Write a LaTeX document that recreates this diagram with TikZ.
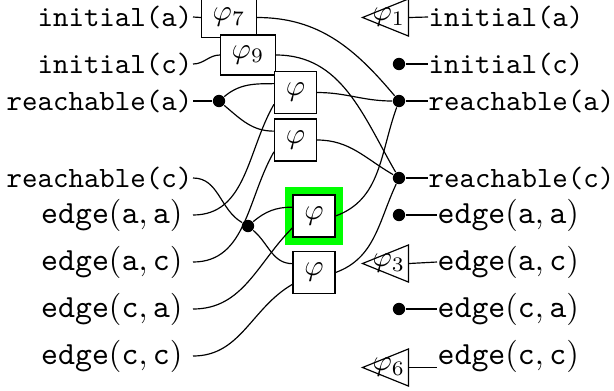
\documentclass[tikz,border=0pt]{standalone}
\usetikzlibrary{shapes.geometric}

\begin{document}
\begin{tikzpicture}[x=0.339pt,y=-0.339pt,
    lab/.style={inner sep=0pt},
    elab/.style={inner sep=0pt,font=\fontsize{10.6}{13}\selectfont},
    phibox/.style={draw,fill=white,inner sep=0pt,minimum width=14.2pt,minimum height=14.2pt},
    subbox/.style={phibox,minimum width=18.6pt,minimum height=13.6pt},
    hlbox/.style={phibox,preaction={draw=green,line width=5.6pt}},
    dot/.style={circle,fill,inner sep=0pt,minimum size=4.2pt},
    tri/.style={draw,isosceles triangle,shape border rotate=180,
      isosceles triangle stretches,inner sep=0pt,minimum width=12.6pt,minimum height=15.6pt}]
  \useasboundingbox (0,0) rectangle (614,390);
  % atoms, left and right
  \foreach \n/\y/\lab in {ia/17/initial(a),ic/64/initial(c),ra/101/reachable(a),rc/178/reachable(c)} {
    \node[lab,anchor=east,font=\ttfamily] (l-\n) at (193,\y) {\lab};
    \node[lab,anchor=west,font=\ttfamily] (r-\n) at (428,\y) {\lab};
  }
  \foreach \n/\y/\u/\v in {eaa/215/a/a,eac/262/a/c,eca/309/c/a,ecc/356/c/c} {
    \node[elab,anchor=east,inner xsep=3.4pt] (l-\n) at (193,\y) {$\mathtt{edge}(\mathtt{\u},\mathtt{\v})$};
    \node[elab,anchor=west] (r-\n) at (437,\y) {$\mathtt{edge}(\mathtt{\u},\mathtt{\v})$};
  }
  % gates
  \node[subbox] (p7) at (229,17.5) {$\varphi_7$};
  \node[subbox] (p9) at (248,55) {$\varphi_9$};
  \node[phibox] (pa) at (295.5,92.5) {$\varphi$};
  \node[phibox] (pb) at (295.5,140) {$\varphi$};
  \node[hlbox] (pg) at (314,216) {$\varphi$};
  \node[phibox] (pd) at (314,272.5) {$\varphi$};
  \node[dot] (d1) at (219,101) {};
  \node[dot] (d2) at (248,226) {};
  \foreach \n/\y in {ic/64,ra/101,rc/178,eaa/215,eca/309}
    \node[dot] (q-\n) at (399,\y) {};
  \node[tri,label={[xshift=-2.4pt]center:$\varphi_1$}] (t1) at (396,17.5) {};
  \node[tri,label={[xshift=-2.4pt]center:$\varphi_3$}] (t3) at (396,263.5) {};
  \node[tri,label={[xshift=-2.4pt]center:$\varphi_6$}] (t6) at (396,367.5) {};
  % wires in
  \draw (l-ia.east) -- (p7.west);
  \draw (l-ic.east) to[out=0,in=180] (p9.west);
  \draw (l-ra.east) -- (d1);
  \draw (d1) to[out=40,in=180] ([yshift=3pt]pa.west);
  \draw (d1) to[out=-40,in=180] ([yshift=3pt]pb.west);
  \draw (l-eaa.east) to[out=0,in=240] ([yshift=-4pt]pa.west);
  \draw (l-eac.east) to[out=0,in=240] ([yshift=-4pt]pb.west);
  \draw (l-rc.east) to[out=0,in=150] (d2);
  \draw (d2) to[out=40,in=180] ([yshift=3pt]pg.west);
  \draw (d2) to[out=-40,in=180] ([yshift=3pt]pd.west);
  \draw (l-eca.east) to[out=0,in=225] ([yshift=-4pt]pg.west);
  \draw (l-ecc.east) to[out=0,in=210] ([yshift=-4pt]pd.west);
  % wires out
  \draw (p7.east) to[out=0,in=130] (q-ra);
  \draw (p9.east) to[out=0,in=120] (q-rc);
  \draw (pa.east) to[out=0,in=180] (q-ra);
  \draw (pb.east) to[out=0,in=150] (q-rc);
  \draw (pg.east) to[out=20,in=250] (q-ra);
  \draw (pd.east) to[out=20,in=245] (q-rc);
  \foreach \n in {ic,ra,rc,eaa,eca}
    \draw (q-\n) -- (r-\n.west);
  \draw (t1.lower side) -- (r-ia.west);
  \draw (t3.lower side) -- (r-eac.west);
  \draw (t6.lower side) -- (t6.lower side -| r-ecc.west);
\end{tikzpicture}
\end{document}
